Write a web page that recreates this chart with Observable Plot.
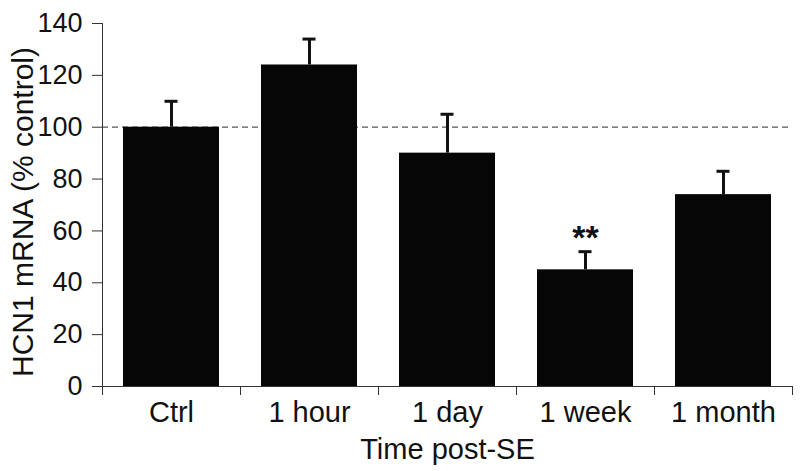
<!DOCTYPE html>
<html><head><meta charset="utf-8">
<script src="https://cdn.jsdelivr.net/npm/d3@7"></script>
<script src="https://cdn.jsdelivr.net/npm/@observablehq/plot@0.6"></script>
<style>body{margin:0;background:#fff} svg{display:block}</style>
</head><body><div id="chart"></div>
<script>
const categories = ["Ctrl", "1 hour", "1 day", "1 week", "1 month"];
const means = [100, 124, 90, 45, 74];
const errUpper = [110, 134, 105, 52, 83];
const significance = ["", "", "", "**", ""];
const yTicks = [0, 20, 40, 60, 80, 100, 120, 140];
const referenceLevel = [100];
const xTitle = "Time post-SE";
const yTitle = "HCN1 mRNA (% control)";

const data = categories.map((c, i) => ({i, c, mean: means[i], err: errUpper[i], sig: significance[i]}));
const font = "'Liberation Sans', Arial, Helvetica, sans-serif";

const plot = Plot.plot({
  width: 800, height: 471,
  marginLeft: 102, marginRight: 8, marginTop: 23, marginBottom: 85,
  style: {fontFamily: font, background: "#fff", color: "#111"},
  x: {domain: [0, categories.length], label: null},
  y: {domain: [0, 140], label: null},
  marks: [
    Plot.ruleY(referenceLevel, {stroke: "#555", strokeDasharray: "6,4", strokeWidth: 1.2}),
    Plot.rectY(data, {x1: d => d.i, x2: d => d.i + 1, y: "mean", fill: "#060606", insetLeft: 21, insetRight: 21}),
    Plot.ruleX(data, {x: d => d.i + 0.5, y1: "mean", y2: "err", stroke: "#111", strokeWidth: 3}),
    Plot.ruleY(data, {y: "err", x1: d => d.i + 0.5, x2: d => d.i + 0.5, insetLeft: -6.5, insetRight: -6.5, stroke: "#111", strokeWidth: 3}),
    Plot.text(data.filter(d => d.sig), {x: d => d.i + 0.5, y: "err", text: "sig", dy: -14, fontSize: 34, fontWeight: "bold", fill: "#111"}),
    Plot.ruleX([0], {stroke: "#333"}),
    Plot.ruleY([0], {stroke: "#333"}),
    Plot.axisY(yTicks, {tickSize: 10, tickPadding: 10, fontSize: 27, label: null, stroke: "#333"}),
    Plot.axisX(d3.range(categories.length + 1), {tickSize: 9, tickFormat: () => "", label: null, stroke: "#333"}),
    Plot.axisX(categories.map((c, i) => i + 0.5), {tickSize: 0, tickPadding: 15, fontSize: 29, tickFormat: d => categories[Math.floor(d)], label: null}),
    Plot.text([xTitle], {frameAnchor: "bottom", textAnchor: "middle", lineAnchor: "middle", dy: 63, fontSize: 29, fill: "#111"}),
    Plot.text([yTitle], {frameAnchor: "left", textAnchor: "middle", lineAnchor: "middle", rotate: -90, dx: -79, dy: 7, fontSize: 30, fill: "#111"})
  ]
});
document.getElementById("chart").appendChild(plot);
</script>
</body></html>
